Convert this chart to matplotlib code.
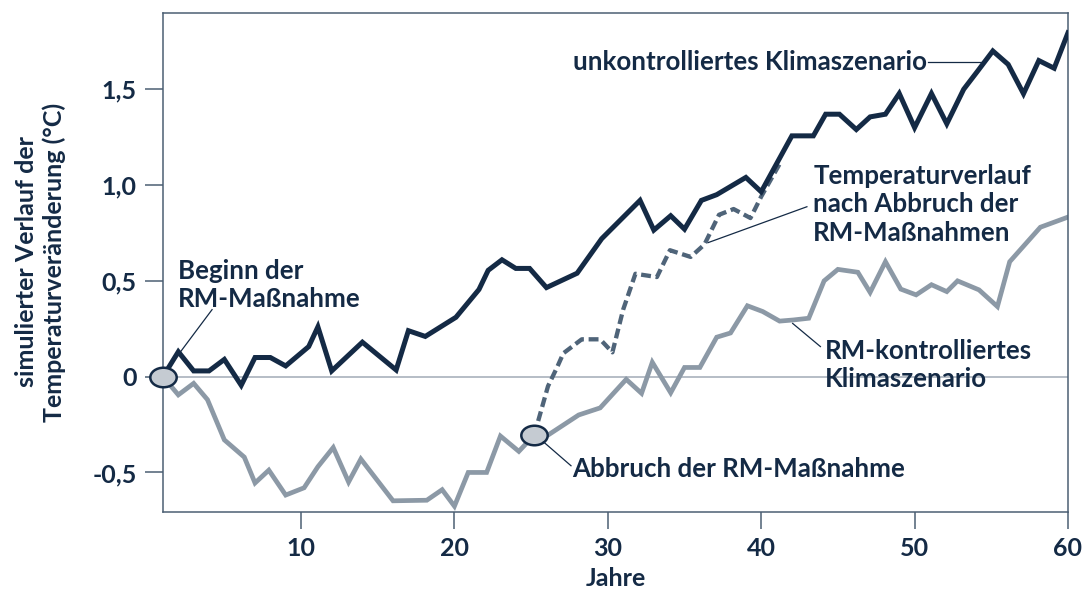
import matplotlib
matplotlib.use("Agg")
import matplotlib.pyplot as plt
from matplotlib.path import Path
from matplotlib.transforms import Affine2D
from matplotlib.ticker import FuncFormatter

# simulated temperature change (°C) per year
# unkontrolliertes Klimaszenario
years_uncontrolled = [1, 2, 3, 4, 5, 6.1, 7, 8, 9, 10.5, 11.1, 12, 14, 16.2, 17, 18.1,
                      20.1, 21.6, 22.2, 23.1, 24, 24.9, 26, 28, 29.6, 32.1, 33, 34.1,
                      35, 36.1, 37.1, 39, 40, 42, 43.4, 44.2, 45.1, 46.2, 47.1, 48.1,
                      49, 50, 51.1, 52.1, 53.2, 54.1, 55.1, 56.1, 57.1, 58.1, 59.1, 60]
temp_uncontrolled = [0, 0.13, 0.03, 0.03, 0.09, -0.045, 0.10, 0.10, 0.056, 0.157, 0.26,
                     0.03, 0.18, 0.035, 0.24, 0.21, 0.31, 0.455, 0.555, 0.61, 0.565,
                     0.565, 0.465, 0.54, 0.72, 0.92, 0.765, 0.84, 0.77, 0.92, 0.95,
                     1.04, 0.965, 1.257, 1.257, 1.37, 1.37, 1.29, 1.356, 1.37, 1.478,
                     1.30, 1.478, 1.32, 1.50, 1.594, 1.70, 1.63, 1.477, 1.65, 1.61, 1.795]

# RM-kontrolliertes Klimaszenario
years_rm = [1, 2, 3, 3.9, 5, 6.3, 7, 7.9, 9, 10.2, 11.1, 12.1, 13.1, 13.9, 16, 18.2,
            19.2, 20, 20.9, 22.1, 23, 24.2, 25.2, 26.1, 28.1, 29.5, 31.2, 32.2, 32.9,
            34.1, 35, 36, 37.1, 38, 39.1, 40.1, 41.2, 42.1, 43.1, 44.1, 45, 46.3,
            47.1, 48.1, 49.1, 50.1, 51.1, 52.1, 52.8, 54.2, 55.4, 56.2, 58.2, 60]
temp_rm = [0, -0.095, -0.035, -0.12, -0.33, -0.42, -0.555, -0.488, -0.618, -0.58, -0.47,
           -0.37, -0.55, -0.43, -0.648, -0.645, -0.59, -0.676, -0.50, -0.50, -0.31,
           -0.39, -0.305, -0.305, -0.20, -0.163, -0.014, -0.087, 0.075, -0.084, 0.048,
           0.048, 0.206, 0.228, 0.37, 0.34, 0.29, 0.296, 0.305, 0.50, 0.56, 0.545,
           0.44, 0.60, 0.457, 0.427, 0.48, 0.444, 0.50, 0.453, 0.366, 0.60, 0.78, 0.833]

# Temperaturverlauf nach Abbruch der RM-Maßnahmen
years_abort = [25.2, 26.1, 26.7, 27.1, 28.3, 29.5, 30.3, 31.0, 31.8, 33.2, 34.05, 35.4,
               36.3, 37.25, 38.2, 39.3, 40, 41.2]
temp_abort = [-0.305, -0.05, 0.05, 0.122, 0.195, 0.195, 0.127, 0.35, 0.537, 0.52, 0.66,
              0.625, 0.69, 0.845, 0.875, 0.828, 0.94, 1.11]

# start and stop of the RM measure
event_years = [1, 25.2]
event_temps = [0, -0.305]

xticks = [10, 20, 30, 40, 50, 60]
yticks = [-0.5, 0, 0.5, 1.0, 1.5]

navy = "#142a45"
grey = "#8c99a6"
dash_col = "#4f6479"
spine_col = "#4b5f73"

plt.rcParams["font.family"] = ["Lato", "DejaVu Sans"]
plt.rcParams["font.weight"] = "bold"
plt.rcParams["axes.labelweight"] = "bold"

fig = plt.figure(figsize=(10.88, 5.92), dpi=100)
ax = fig.add_axes([0.1498, 0.1356, 0.8318, 0.843])

ax.axhline(0, color="#a9b2bc", lw=1.2, zorder=1)
ax.plot(years_rm, temp_rm, color=grey, lw=3.4, solid_joinstyle="miter", zorder=2)
ax.plot(years_abort, temp_abort, color=dash_col, lw=3.1, linestyle=(0, (2.3, 1.1)),
        dash_capstyle="butt", zorder=3)
ax.plot(years_uncontrolled, temp_uncontrolled, color=navy, lw=3.6,
        solid_joinstyle="miter", zorder=4)

ellipse = Path.unit_circle().transformed(Affine2D().scale(1.35, 1.0))
ax.plot(event_years, event_temps, linestyle="none", marker=ellipse, markersize=19,
        markerfacecolor="#c5cbd2", markeredgecolor=navy, markeredgewidth=1.8,
        clip_on=False, zorder=6)

ax.set_xlim(1, 60)
ax.set_ylim(-0.705, 1.90)
ax.set_xticks(xticks)
ax.set_yticks(yticks)
ax.yaxis.set_major_formatter(FuncFormatter(
    lambda v, p: "0" if v == 0 else f"{v:.1f}".replace(".", ",")))

for s in ax.spines.values():
    s.set_color(spine_col)
    s.set_linewidth(1.1)
ax.tick_params(axis="both", colors=spine_col, labelcolor=navy, labelsize=18, width=1.1)
ax.tick_params(axis="y", length=13, pad=6)
ax.tick_params(axis="x", length=12, pad=6)

ax.set_xlabel("Jahre", fontsize=18, color=navy, labelpad=5)
fig.text(0.037, 0.5575, "simulierter Verlauf der\nTemperaturveränderung (°C)",
         rotation=90, ha="center", va="center", fontsize=18, color=navy,
         linespacing=1.2, multialignment="center")

txt = dict(fontsize=18.6, color=navy, linespacing=1.22, zorder=7)
ax.text(1.98, 0.48, "Beginn der\nRM-Maßnahme", ha="left", va="center", **txt)
ax.plot([1.65, 4.2], [0.077, 0.35], color=navy, lw=0.9, zorder=7)

ax.text(27.7, -0.48, "Abbruch der RM-Maßnahme", ha="left", va="center", **txt)
ax.plot([25.8, 27.6], [-0.34, -0.465], color=navy, lw=0.9, zorder=7)

ax.text(27.7, 1.64, "unkontrolliertes Klimaszenario", ha="left", va="center", **txt)
ax.plot([50.9, 54.3], [1.64, 1.64], color=navy, lw=0.9, zorder=7)

ax.text(43.4, 0.90, "Temperaturverlauf\nnach Abbruch der\nRM-Maßnahmen",
        ha="left", va="center", **txt)
ax.plot([36.55, 42.98], [0.70, 0.887], color=navy, lw=0.9, zorder=7)

ax.text(44.15, 0.06, "RM-kontrolliertes\nKlimaszenario", ha="left", va="center", **txt)
ax.plot([42.05, 43.86], [0.278, 0.157], color=navy, lw=0.9, zorder=7)

fig.savefig("out.png", dpi=100)
